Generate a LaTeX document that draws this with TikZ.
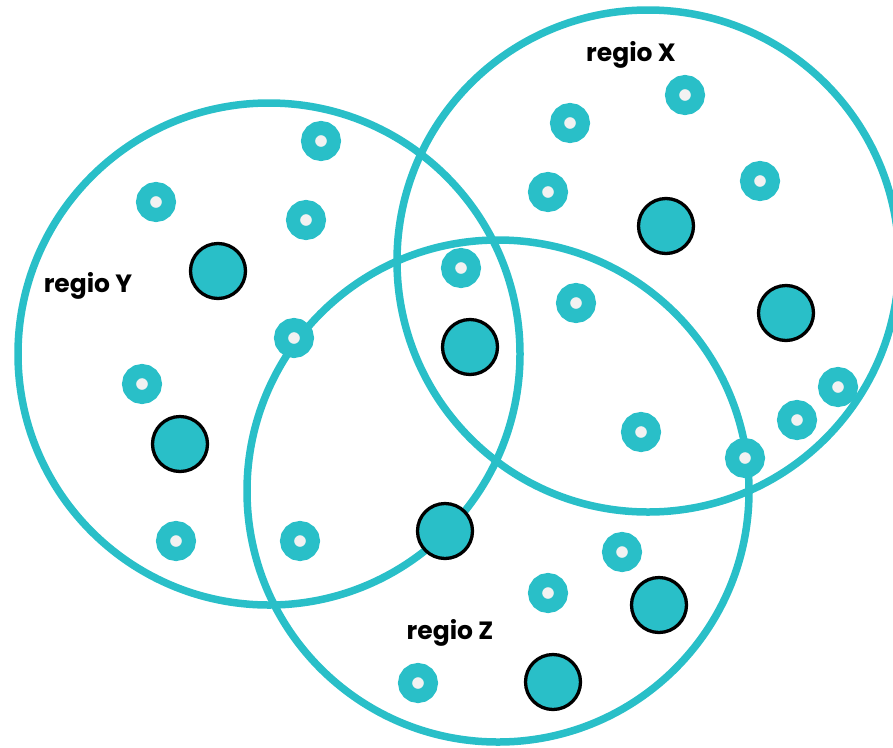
\documentclass[tikz,border=0pt]{standalone}
\usepackage{fontspec}
\setmainfont{Poppins}
\definecolor{tealc}{HTML}{29BFC8}
\definecolor{holec}{HTML}{F2F2F2}
\begin{document}
\begin{tikzpicture}[x=1pt,y=-1pt,
  region/.style={draw=tealc,line width=7.5pt},
  smalldot/.style={circle,draw=tealc,fill=holec,line width=14pt,minimum size=26pt,inner sep=0pt},
  bigdot/.style={circle,draw=black,fill=tealc,line width=3.3pt,minimum size=55pt,inner sep=0pt},
  lbl/.style={font=\fontsize{25}{28}\selectfont\bfseries,text=black,inner sep=0pt}]
\useasboundingbox (0,0) rectangle (893,747);
\draw[region] (648,261) circle[radius=251] coordinate (rx);
\draw[region] (269,354) circle[radius=251] coordinate (ry);
\draw[region] (498,491) circle[radius=251] coordinate (rz);
% small dots
\node[smalldot] (s1) at (685,95) {};
\node[smalldot] (s2) at (570,123) {};
\node[smalldot] (s3) at (548,192) {};
\node[smalldot] (s4) at (760,181) {};
\node[smalldot] (s5) at (321,141) {};
\node[smalldot] (s6) at (156,202) {};
\node[smalldot] (s7) at (306,220) {};
\node[smalldot] (s8) at (461,268) {};
\node[smalldot] (s9) at (576,303) {};
\node[smalldot] (s10) at (294,338) {};
\node[smalldot] (s11) at (142,384) {};
\node[smalldot] (s12) at (838,387) {};
\node[smalldot] (s13) at (797,420) {};
\node[smalldot] (s14) at (641,432) {};
\node[smalldot] (s15) at (745,458) {};
\node[smalldot] (s16) at (176,541) {};
\node[smalldot] (s17) at (300,541) {};
\node[smalldot] (s18) at (622,552) {};
\node[smalldot] (s19) at (548,593) {};
\node[smalldot] (s20) at (418,683) {};
% big dots
\node[bigdot] (b1) at (666,226) {};
\node[bigdot] (b2) at (786,313) {};
\node[bigdot] (b3) at (218,271) {};
\node[bigdot] (b4) at (470,347) {};
\node[bigdot] (b5) at (180,444) {};
\node[bigdot] (b6) at (445,531) {};
\node[bigdot] (b7) at (659,605) {};
\node[bigdot] (b8) at (553,682) {};
% labels
\node[lbl] (lx) at (631,55) {regio X};
\node[lbl] (ly) at (88,286) {regio Y};
\node[lbl] (lz) at (450,633) {regio Z};
\end{tikzpicture}
\end{document}
